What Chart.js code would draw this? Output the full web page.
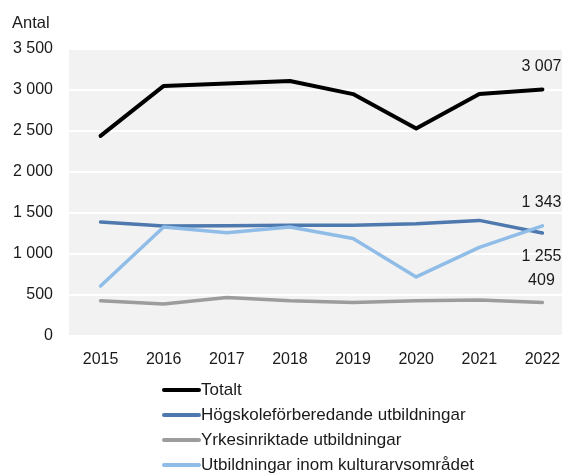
<!DOCTYPE html>
<html lang="sv">
<head>
<meta charset="utf-8">
<script src="https://cdn.jsdelivr.net/npm/chart.js@4/dist/chart.umd.min.js"></script>
<style>
  html, body { margin: 0; padding: 0; background: #fff; overflow: hidden; }
  #wrap { width: 576px; height: 475px; }
</style>
</head>
<body>
<div id="wrap"><canvas id="chart" width="576" height="475"></canvas></div>
<script>
const years = ['2015', '2016', '2017', '2018', '2019', '2020', '2021', '2022'];
const totalt = [2440, 3050, 3080, 3110, 2950, 2530, 2950, 3007];
const hogskole = [1390, 1340, 1345, 1350, 1350, 1370, 1410, 1255];
const yrkes = [430, 390, 470, 430, 410, 430, 440, 409];
const kultur = [610, 1330, 1260, 1330, 1190, 720, 1080, 1343];
const yTicks = [0, 500, 1000, 1500, 2000, 2500, 3000, 3500];

const FONT = '"Liberation Sans", Arial, sans-serif';

// tusentalsavgränsare med mellanslag
function fmt(v) {
  return String(v).replace(/\B(?=(\d{3})+(?!\d))/g, ' ');
}

const series = [
  { label: 'Totalt', data: totalt, color: '#000000', width: 4, labelDy: -23 },
  { label: 'Högskoleförberedande utbildningar', data: hogskole, color: '#4e79ae', width: 3.5, labelDy: 24 },
  { label: 'Yrkesinriktade utbildningar', data: yrkes, color: '#9c9c9c', width: 3.5, labelDy: -22 },
  { label: 'Utbildningar inom kulturarvsområdet', data: kultur, color: '#90bde8', width: 3.5, labelDy: -23 }
];

const bgPlugin = {
  id: 'bg',
  beforeDraw(chart) {
    const { ctx, chartArea: a } = chart;
    ctx.save();
    ctx.fillStyle = '#f2f2f2';
    ctx.fillRect(a.left, a.top, a.right - a.left, a.bottom - a.top);
    ctx.restore();
  }
};

// etiketter vid sista punkten, "Antal" och förklaringen
const textPlugin = {
  id: 'texts',
  afterDraw(chart) {
    const ctx = chart.ctx;
    ctx.save();
    ctx.font = '16px ' + FONT;
    ctx.fillStyle = '#1a1a1a';
    ctx.textBaseline = 'middle';

    ctx.textAlign = 'left';
    ctx.font = '16.5px ' + FONT;
    ctx.fillText('Antal', 12, 23);

    ctx.font = '16px ' + FONT;
    ctx.textAlign = 'center';
    series.forEach((s, i) => {
      const pt = chart.getDatasetMeta(i).data[s.data.length - 1];
      ctx.fillText(fmt(s.data[s.data.length - 1]), pt.x - 1, pt.y + s.labelDy);
    });

    ctx.font = '17px ' + FONT;
    ctx.textAlign = 'left';
    series.forEach((s, i) => {
      const y = 390 + i * 25;
      ctx.strokeStyle = s.color;
      ctx.lineWidth = 4;
      ctx.lineCap = 'round';
      ctx.beginPath();
      ctx.moveTo(164, y);
      ctx.lineTo(199, y);
      ctx.stroke();
      ctx.fillText(s.label, 201, y);
    });
    ctx.restore();
  }
};

new Chart(document.getElementById('chart'), {
  type: 'line',
  data: {
    labels: years,
    datasets: series.map((s, i) => ({
      label: s.label,
      data: s.data,
      order: series.length - i,
      borderColor: s.color,
      backgroundColor: s.color,
      borderWidth: s.width,
      borderCapStyle: 'round',
      borderJoinStyle: 'round',
      pointRadius: 0,
      tension: 0
    }))
  },
  options: {
    responsive: false,
    animation: false,
    layout: { padding: { top: 49, right: 2, left: 0, bottom: 0 } },
    plugins: {
      legend: { display: false },
      tooltip: { enabled: false }
    },
    scales: {
      x: {
        offset: true,
        grid: { display: false, drawTicks: false },
        border: { display: false },
        ticks: { color: '#1a1a1a', font: { family: FONT, size: 16 }, padding: 14, maxRotation: 0 },
        afterFit(scale) { scale.height = 139; }
      },
      y: {
        min: 0,
        max: 3500,
        afterBuildTicks(scale) { scale.ticks = yTicks.map(v => ({ value: v })); },
        grid: { color: '#ffffff', lineWidth: 2, drawTicks: false },
        border: { display: false },
        ticks: {
          color: '#1a1a1a',
          font: { family: FONT, size: 16 },
          padding: 16,
          callback: v => fmt(v)
        },
        afterFit(scale) { scale.width = 69; }
      }
    }
  },
  plugins: [bgPlugin, textPlugin]
});
</script>
</body>
</html>
